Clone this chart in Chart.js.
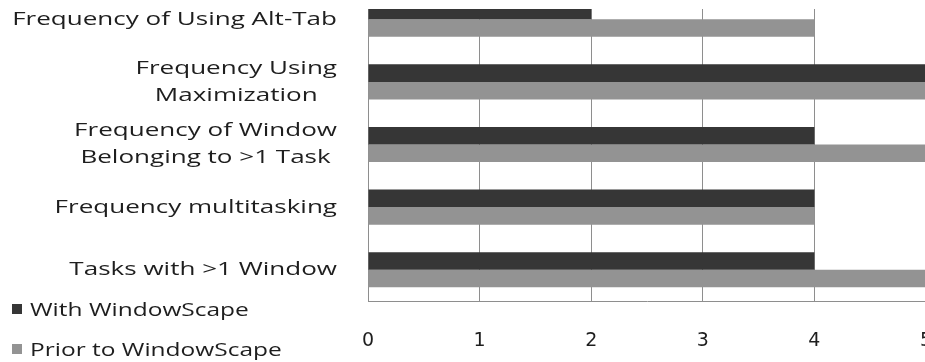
<!DOCTYPE html>
<html>
<head>
<meta charset="utf-8">
<script src="https://cdn.jsdelivr.net/npm/chart.js@4.4.1/dist/chart.umd.min.js"></script>
<style>
  html, body { margin: 0; padding: 0; background: #fff; overflow: hidden; }
  #wrap { position: relative; width: 925px; height: 362px; overflow: hidden; }
  #c { position: absolute; left: 0; top: -21px; }
  #topMask { position: absolute; left: 364px; top: 0; width: 600px; height: 9px; background: #fff; }
  #legend { position: absolute; left: 12px; top: 289px; font-family: 'Open Sans', sans-serif; font-size: 18px; color: #1e1e1e; }
  #legend div { position: relative; height: 40px; line-height: 40px; white-space: nowrap; }
  #legend i { position: absolute; left: 0; top: 15px; width: 10px; height: 10px; }
  #legend b { position: absolute; left: 18px; top: 0; font-weight: normal; transform: scaleX(1.36); transform-origin: left center; }
</style>
</head>
<body>
<div id="wrap">
  <canvas id="c" width="945" height="390" style="width:945px;height:390px"></canvas>
  <div id="topMask"></div>
  <div id="legend"></div>
</div>
<script>
// categories, top to bottom (each entry = label lines)
const categories = [
  ['Frequency of Using Alt-Tab'],
  ['Frequency Using', 'Maximization'],
  ['Frequency of Window', 'Belonging to >1 Task'],
  ['Frequency multitasking'],
  ['Tasks with >1 Window']
];
const withWindowScape  = [2, 5, 4, 4, 4];
const priorWindowScape = [4, 5, 5, 4, 5];
const seriesNames  = ['With WindowScape', 'Prior to WindowScape'];
const seriesColors = ['#363636', '#939393'];
const xMin = 0, xMax = 5, xStep = 1;

// the source text is stretched sideways
const stretch = 1.37;

// category labels: block right-aligned, lines centred inside the block
const yLabels = {
  id: 'yLabels',
  afterDraw(chart) {
    const ctx = chart.ctx, y = chart.scales.y;
    ctx.save();
    ctx.font = '19px "Open Sans"';
    ctx.fillStyle = '#1e1e1e';
    ctx.textAlign = 'center';
    ctx.textBaseline = 'middle';
    categories.forEach((lines, i) => {
      const cy = y.getPixelForValue(i);
      const w = Math.max(...lines.map(l => ctx.measureText(l).width)) * stretch;
      const cx = y.right - 31 - w / 2;
      lines.forEach((l, k) => {
        ctx.save();
        ctx.translate(cx, cy + (k - (lines.length - 1) / 2) * 27);
        ctx.scale(stretch, 1);
        ctx.fillText(l, 0, 0);
        ctx.restore();
      });
    });
    ctx.restore();
  }
};

const chart = new Chart(document.getElementById('c'), {
  type: 'bar',
  data: {
    labels: categories,
    datasets: [
      { label: seriesNames[0], data: withWindowScape,  backgroundColor: seriesColors[0] },
      { label: seriesNames[1], data: priorWindowScape, backgroundColor: seriesColors[1] }
    ]
  },
  options: {
    indexAxis: 'y',
    responsive: false,
    animation: false,
    datasets: { bar: { categoryPercentage: 0.56, barPercentage: 1.0 } },
    layout: { padding: { left: 0, right: 19, top: 9, bottom: 8 } },
    plugins: { legend: { display: false }, tooltip: { enabled: false } },
    scales: {
      x: {
        min: xMin, max: xMax,
        ticks: { stepSize: xStep, padding: 29, color: '#1e1e1e', font: { family: 'DejaVu Sans', size: 19 } },
        grid: { color: '#8e8e8e', drawTicks: false, lineWidth: 1 },
        border: { color: '#8e8e8e' },
        afterFit: s => { s.height = 60; s.paddingLeft = 0; s.paddingRight = 0; }
      },
      y: {
        ticks: { display: false },
        grid: { display: false, drawTicks: false },
        border: { color: '#8e8e8e' },
        afterFit: s => { s.width = 368; }
      }
    }
  },
  plugins: [yLabels]
});

// legend
const legend = document.getElementById('legend');
seriesNames.forEach((n, i) => {
  const d = document.createElement('div');
  d.innerHTML = `<i style="background:${seriesColors[i]}"></i><b>${n}</b>`;
  legend.append(d);
});
</script>
</body>
</html>
